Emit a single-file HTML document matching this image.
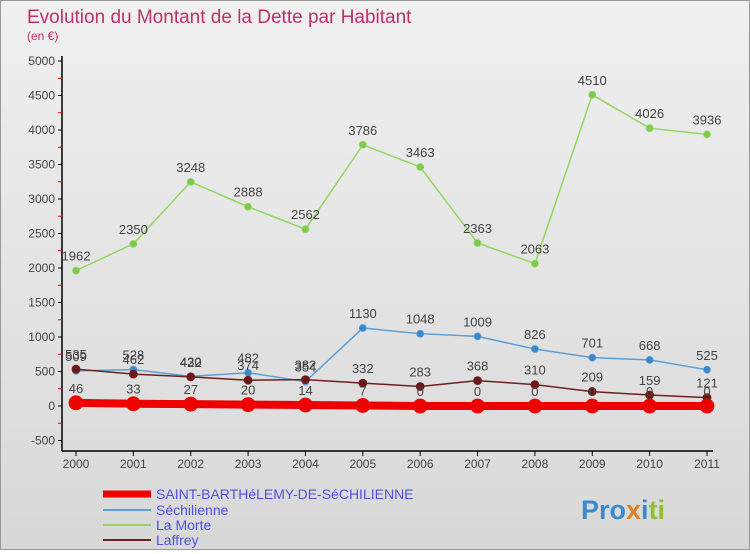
<!DOCTYPE html>
<html><head><meta charset="utf-8"><style>
body{margin:0;width:750px;height:550px;overflow:hidden;font-family:"Liberation Sans",sans-serif}
#wrap{position:relative;width:748px;height:548px;border:1px solid #999;background:linear-gradient(#f0f0f0,#d8d8d8)}
</style></head><body>
<div id="wrap">
<svg id="chart" width="748" height="548">
<text x="26" y="22" font-size="19" fill="#c0306a">Evolution du Montant de la Dette par Habitant</text>
<text x="26" y="39" font-size="12" fill="#c0306a">(en €)</text>
<g id="axes"></g><g id="series"></g>
<g>
<line x1="102" y1="493" x2="150" y2="493" stroke="#e00" stroke-width="7"/>
<text x="155" y="498" font-size="14" fill="#5050e0">SAINT-BARTHéLEMY-DE-SéCHILIENNE</text>
<line x1="102" y1="509" x2="150" y2="509" stroke="#5aa0d8" stroke-width="2"/>
<text x="155" y="514" font-size="14" fill="#5050e0">Séchilienne</text>
<line x1="102" y1="524" x2="150" y2="524" stroke="#90d860" stroke-width="2"/>
<text x="155" y="529" font-size="14" fill="#5050e0">La Morte</text>
<line x1="102" y1="539" x2="150" y2="539" stroke="#702020" stroke-width="2"/>
<text x="155" y="544" font-size="14" fill="#5050e0">Laffrey</text>
</g>
<text x="580" y="518" font-size="27" font-weight="bold"><tspan fill="#3a8ad0">Pro</tspan><tspan fill="#e08020">x</tspan><tspan fill="#3a8ad0">i</tspan><tspan fill="#90c030">ti</tspan></text>
</svg></div>
<script>
const years=["2000","2001","2002","2003","2004","2005","2006","2007","2008","2009","2010","2011"];
const yTicks=[-500,0,500,1000,1500,2000,2500,3000,3500,4000,4500,5000];
const saintBarth=[46,33,27,20,14,7,0,0,0,0,0,0];
const sechilienne=[509,528,430,482,354,1130,1048,1009,826,701,668,525];
const laMorte=[1962,2350,3248,2888,2562,3786,3463,2363,2063,4510,4026,3936];
const laffrey=[535,462,422,374,382,332,283,368,310,209,159,121];
const NS="http://www.w3.org/2000/svg";
const X=i=>75+i*(706-75)/11;
const Y=v=>405-v*0.069;
function mk(t,a,p){const e=document.createElementNS(NS,t);for(const k in a)e.setAttribute(k,a[k]);p.appendChild(e);return e;}
const ax=document.getElementById('axes');
const yl=mk('line',{x1:61,y1:55,x2:61,y2:450,stroke:'#000','stroke-width':1.5},ax);


const xl=mk('line',{x1:61,y1:450,x2:712,y2:450,stroke:'#000','stroke-width':1.5},ax);


const maxTick=yTicks[yTicks.length-1];
yTicks.forEach(v=>{
 mk('line',{x1:57,y1:Y(v),x2:61,y2:Y(v),stroke:'#000'},ax);
 if(v<maxTick) mk('line',{x1:57,y1:Y(v+250),x2:61,y2:Y(v+250),stroke:'#e00'},ax);
 const t=mk('text',{x:54,y:Y(v)+4,'font-size':12,fill:'#444','text-anchor':'end'},ax);t.textContent=v;
 
 
});
years.forEach((y,i)=>{
 mk('line',{x1:X(i),y1:450,x2:X(i),y2:455,stroke:'#000'},ax);
 const t=mk('text',{x:X(i),y:467,'font-size':12,fill:'#444','text-anchor':'middle'},ax);t.textContent=y;
 
 
});
const sg=document.getElementById('series');
function series(d,color,w,r,name,dotFill){
 const g=mk('g',{},sg);
 
 
 mk('polyline',{points:d.map((v,i)=>X(i)+','+Y(v)).join(' '),fill:'none',stroke:color,'stroke-width':w},g);
 d.forEach((v,i)=>{
  const c=mk('circle',{cx:X(i),cy:Y(v),r:r,fill:dotFill,stroke:color,'stroke-width':0.8},g);
  
  
  const t=mk('text',{x:X(i),y:Y(v)-10,'font-size':13,fill:'#444','text-anchor':'middle'},g);t.textContent=v;
  
  
 });
}
series(laMorte,'#90d860',1.5,3.5,'la-morte-series','#80c850');
series(sechilienne,'#5aa0d8',1.5,3.5,'sechilienne-series','#3a88c8');
series(laffrey,'#702020',1.5,4,'laffrey-series','#6a1818');
series(saintBarth,'#e00',8,7,'saint-barthelemy-series','#e00');
</script>
</body></html>
